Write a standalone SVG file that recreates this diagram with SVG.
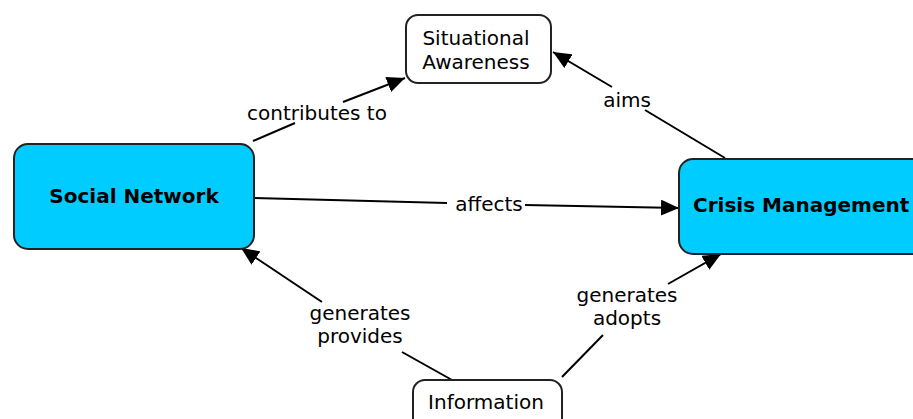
<svg xmlns="http://www.w3.org/2000/svg" width="913" height="419" viewBox="0 0 913 419">
<style>
.conn{fill:none;stroke:#000;stroke-width:2}
.box{stroke:#222;stroke-width:2}
.plain{fill:#fff}
.blue{fill:#00CCFF}
.t{font-family:"DejaVu Sans",Verdana,sans-serif;font-size:20px;fill:#000;text-anchor:middle}
.b{font-weight:bold}
</style>
<defs>
<marker id="arr" viewBox="0 0 18 16" refX="18" refY="8" markerWidth="18" markerHeight="16" markerUnits="userSpaceOnUse" orient="auto">
<path d="M0,0 L18,8 L0,16 Z" fill="#000"/>
</marker>
</defs>
<g id="connectors">
<path class="conn" d="M253,141 L295,123"/>
<path class="conn" d="M343,102 L405,78" marker-end="url(#arr)"/>
<path class="conn" d="M725,158 L645,110"/>
<path class="conn" d="M612,87 L553,52" marker-end="url(#arr)"/>
<path class="conn" d="M254,198 L447,203"/>
<path class="conn" d="M525,205 L679,208" marker-end="url(#arr)"/>
<path class="conn" d="M452,380 L402,352"/>
<path class="conn" d="M322,302 L241,248" marker-end="url(#arr)"/>
<path class="conn" d="M562,377 L603,335"/>
<path class="conn" d="M668,284 L721,254" marker-end="url(#arr)"/>
<text class="t" x="317" y="120">contributes to</text>
<text class="t" x="627" y="107">aims</text>
<text class="t" x="489" y="211">affects</text>
<text class="t" x="360" y="320">generates</text>
<text class="t" x="360" y="343">provides</text>
<text class="t" x="627" y="302">generates</text>
<text class="t" x="627" y="325">adopts</text>
</g>
<g id="situational-awareness">
<rect class="box plain" x="406" y="15" width="145" height="68" rx="12"/>
<text class="t" x="476" y="45">Situational</text>
<text class="t" x="476" y="69">Awareness</text>
</g>
<g id="social-network">
<rect class="box blue" x="14" y="144" width="240" height="105" rx="14"/>
<text class="t b" x="134" y="203">Social Network</text>
</g>
<g id="crisis-management">
<rect class="box blue" x="679" y="159" width="250" height="95" rx="14"/>
<text class="t b" x="693" y="212" style="text-anchor:start">Crisis Management</text>
</g>
<g id="information">
<rect class="box plain" x="413" y="380" width="149" height="50" rx="12"/>
<text class="t" x="486" y="409">Information</text>
</g>
</svg>
